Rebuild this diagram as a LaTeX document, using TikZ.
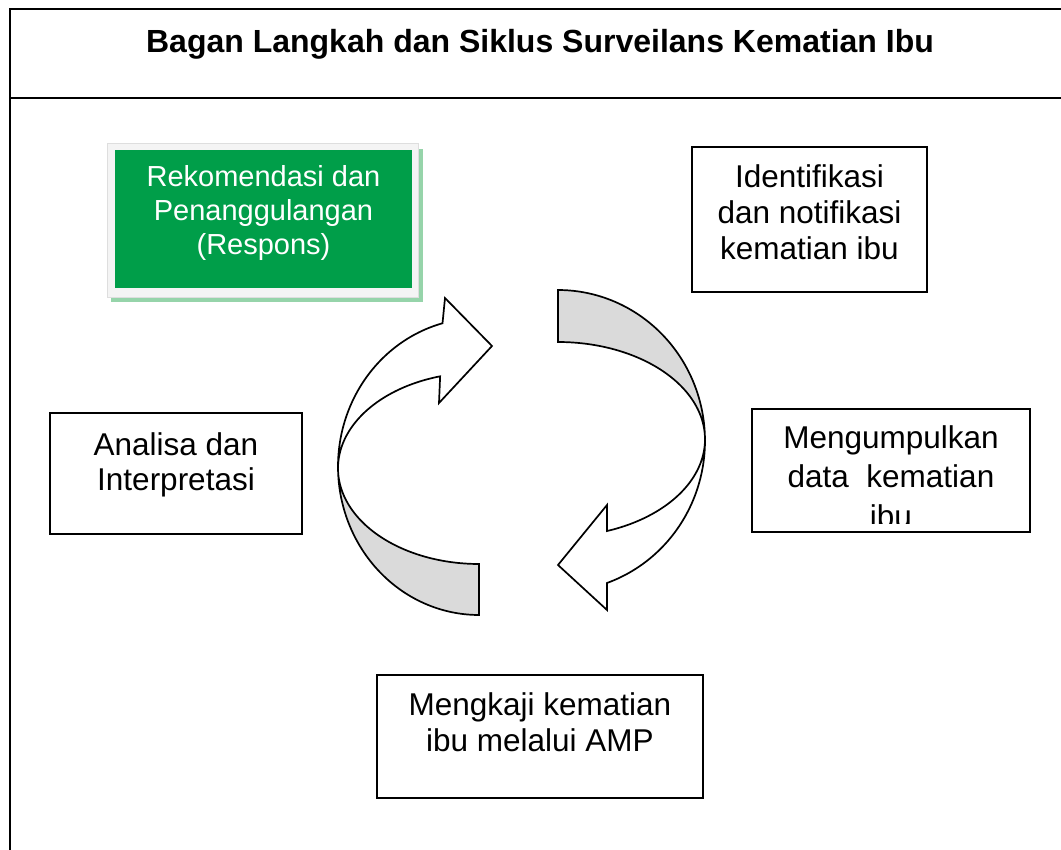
\documentclass[tikz,border=0pt]{standalone}
\usepackage{fontspec}
\setmainfont{Liberation Sans}
\definecolor{boxgreen}{RGB}{0,158,73}
\definecolor{shadowgreen}{RGB}{150,212,170}
\definecolor{framegray}{RGB}{244,244,244}
\definecolor{frameedge}{RGB}{222,222,222}
\definecolor{ribbongray}{RGB}{218,218,218}
\begin{document}
\begin{tikzpicture}[x=1pt,y=-1pt,
  framebox/.style={draw=black, line width=2.2pt, fill=white},
  ribbon/.style={draw=black, line width=1.7pt},
  lbl/.style={anchor=base, inner sep=0pt, font=\fontsize{31.5}{36}\selectfont},
  glbl/.style={anchor=base, inner sep=0pt, text=white, font=\fontsize{29}{33}\selectfont},
  ttl/.style={anchor=base, inner sep=0pt, font=\fontsize{32}{36}\selectfont\bfseries}]
\useasboundingbox (0,0) rectangle (1061,850);
% outer frame and title band
\draw[line width=1.8pt] (10,852) -- (10,9) -- (1063,9);
\draw[line width=1.8pt] (10,98) -- (1063,98);
\node[ttl] (title) at (540,53) {Bagan Langkah dan Siklus Surveilans Kematian Ibu};

% green box with frame and shadow
\fill[shadowgreen] (111,149) rectangle (423,302);
\draw[frameedge, fill=framegray, line width=0.8pt] (107,143) rectangle (418,297);
\node[fill=boxgreen, minimum width=297pt, minimum height=138pt, inner sep=0pt] (rek) at (263.5,219) {};
\node[glbl] (rek1) at (263.5,187) {Rekomendasi dan};
\node[glbl] (rek2) at (263.5,221) {Penanggulangan};
\node[glbl] (rek3) at (263.5,255) {(Respons)};

% Identifikasi
\node[framebox, minimum width=235pt, minimum height=145pt, inner sep=0pt] (ident) at (809.5,219.5) {};
\node[lbl] (ident1) at (809.5,188) {Identifikasi};
\node[lbl] (ident2) at (809.5,224) {dan notifikasi};
\node[lbl] (ident3) at (809.5,260) {kematian ibu};

% Mengumpulkan
\node[framebox, minimum width=278pt, minimum height=123pt, inner sep=0pt] (kumpul) at (891,470.5) {};
\node[lbl] (kumpul1) at (891,448) {Mengumpulkan};
\node[lbl] (kumpul2) at (891,487) {data\ \ kematian};
\begin{scope}
  \clip (753,500) rectangle (1029,523);
  \node[lbl] (kumpul3) at (891,527) {ibu};
\end{scope}

% Analisa
\node[framebox, minimum width=252pt, minimum height=121pt, inner sep=0pt] (anal) at (176,473.5) {};
\node[lbl] (anal1) at (176,455) {Analisa dan};
\node[lbl] (anal2) at (176,490) {Interpretasi};

% Mengkaji
\node[framebox, minimum width=326pt, minimum height=123pt, inner sep=0pt] (kaji) at (540,736.5) {};
\node[lbl] (kaji1) at (540,715) {Mengkaji kematian};
\node[lbl] (kaji2) at (540,751) {ibu melalui AMP};

% left circular arrow
\draw[ribbon, fill=ribbongray]
  plot[domain=180:90, samples=60, variable=\t] ({479+141*cos(\t)},{466.6+148.4*sin(\t)})
  -- plot[domain=90:180, samples=60, variable=\t] ({479+141*cos(\t)},{468.3+95.7*sin(\t)})
  -- cycle;
\draw[ribbon, fill=white]
  plot[domain=180:255, samples=60, variable=\t] ({479+141*cos(\t)},{466.6+148.4*sin(\t)})
  -- (445,298) -- (492,346) -- (439,403)
  -- plot[domain=254:180, samples=60, variable=\t] ({479+141*cos(\t)},{468.3+95.7*sin(\t)})
  -- cycle;

% right circular arrow
\draw[ribbon, fill=ribbongray]
  plot[domain=270:360, samples=60, variable=\t] ({558+147*cos(\t)},{440.8+150.8*sin(\t)})
  -- plot[domain=360:270, samples=60, variable=\t] ({558+147*cos(\t)},{439.3+97.3*sin(\t)})
  -- cycle;
\draw[ribbon, fill=white]
  plot[domain=0:70.5, samples=60, variable=\t] ({558+147*cos(\t)},{440.8+150.8*sin(\t)})
  -- (607,610) -- (558,565) -- (607,505)
  -- plot[domain=70.5:0, samples=60, variable=\t] ({558+147*cos(\t)},{439.3+97.3*sin(\t)})
  -- cycle;
\end{tikzpicture}
\end{document}
